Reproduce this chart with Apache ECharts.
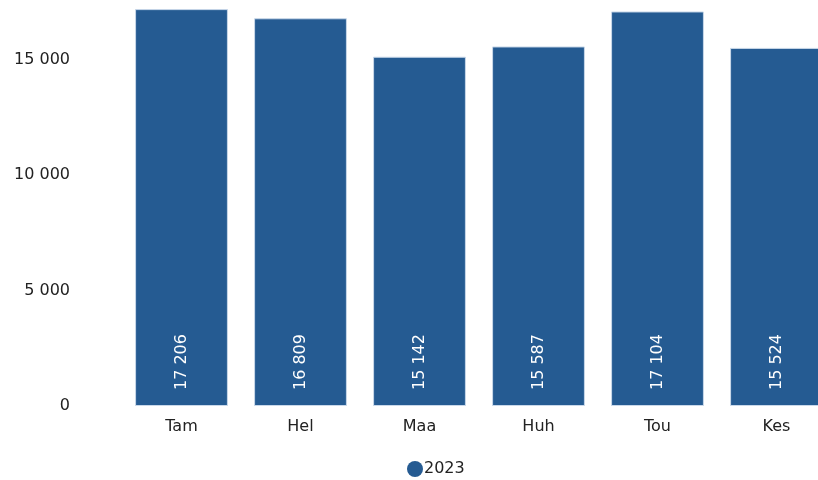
<!DOCTYPE html>
<html><head><meta charset="utf-8">
<script src="https://cdn.jsdelivr.net/npm/echarts@6/dist/echarts.min.js"></script>
<style>html,body{margin:0;padding:0;background:#fff;overflow:hidden;width:818px;height:480px}#c{width:836px;height:480px}</style>
</head><body><div id="c"></div>
<script>
const categories = ['Tam', 'Hel', 'Maa', 'Huh', 'Tou', 'Kes'];
const seriesName = '2023';
const values = [17206, 16809, 15142, 15587, 17104, 15524];
const yTicks = [0, 5000, 10000, 15000];

function fmt(v) { return String(v).replace(/\B(?=(\d{3})+(?!\d))/g, ' '); }

const chart = echarts.init(document.getElementById('c'), null, {renderer: 'canvas'});
chart.setOption({
  animation: false,
  textStyle: {fontFamily: 'DejaVu Sans, sans-serif'},
  grid: {left: 122, right: 0, top: 0, bottom: 74, containLabel: false},
  legend: {
    data: [seriesName], left: 407, top: 461, padding: 0, icon: 'circle', itemWidth: 16, itemHeight: 16, itemGap: 10,
    itemStyle: {borderWidth: 0},
    textStyle: {fontSize: 16, color: '#222', padding: [0, 0, 0, -4]}
  },
  xAxis: {
    type: 'category', data: categories,
    axisLine: {show: false}, axisTick: {show: false},
    axisLabel: {fontSize: 16, color: '#222', margin: 13}
  },
  yAxis: {
    type: 'value', min: 0, max: 17601, interval: 5000,
    splitLine: {show: false}, axisLine: {show: false}, axisTick: {show: false},
    axisLabel: {fontSize: 16, color: '#222', margin: 52,
      formatter: v => yTicks.includes(v) ? fmt(v) : ''}
  },
  series: [{
    name: seriesName, type: 'bar', data: values, barWidth: '78%',
    itemStyle: {color: '#255b92', borderColor: '#c9d8ea', borderWidth: 1},
    label: {
      show: true, position: 'insideBottom', rotate: 90, align: 'left', verticalAlign: 'middle',
      distance: 16, color: '#fff', fontSize: 16, formatter: p => fmt(p.value)
    }
  }]
});
</script></body></html>
